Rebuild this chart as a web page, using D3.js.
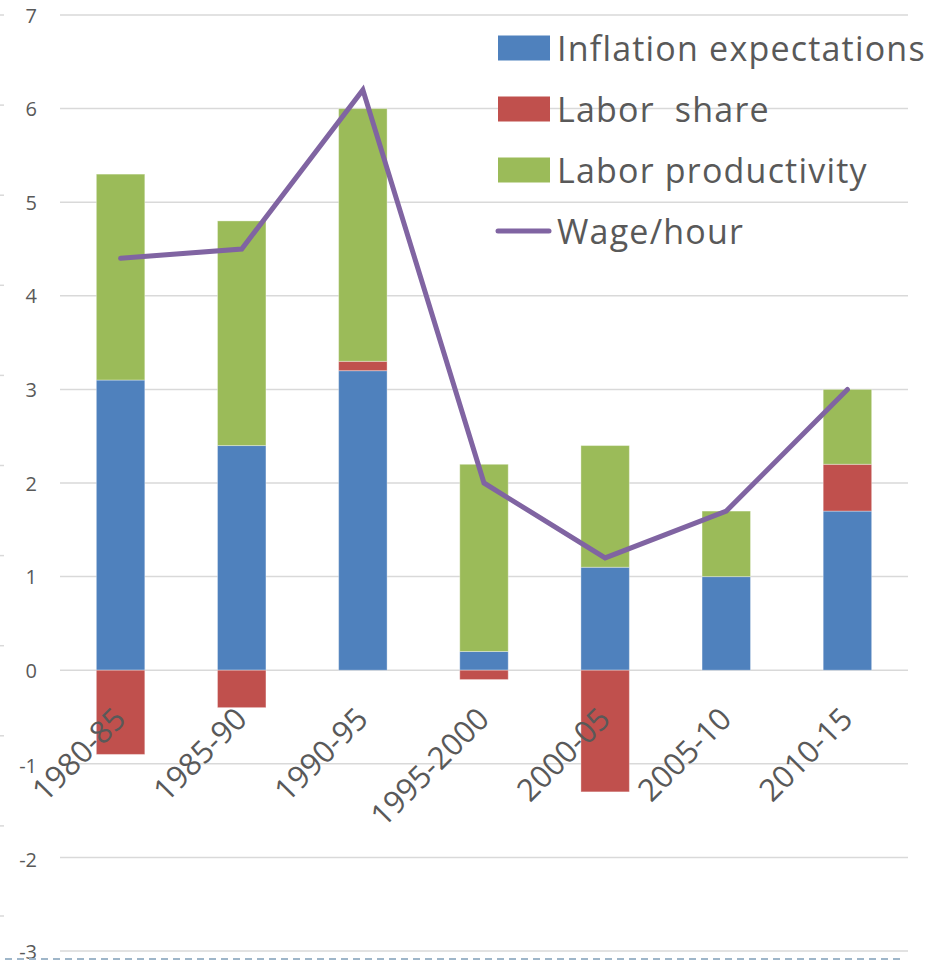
<!DOCTYPE html>
<html>
<head>
<meta charset="utf-8">
<script src="https://cdn.jsdelivr.net/npm/d3@7"></script>
<style>
  body { margin: 0; background: #fff; }
  svg { display: block; font-family: "Open Sans", "Liberation Sans", sans-serif; }
</style>
</head>
<body>
<svg width="947" height="963"></svg>
<script>
// periods on the x axis
var periods = ["1980-85", "1985-90", "1990-95", "1995-2000", "2000-05", "2005-10", "2010-15"];

// the three stacked components (percent)
var inflation = [3.1, 2.4, 3.2, 0.2, 1.1, 1.0, 1.7];
var laborShare = [-0.9, -0.4, 0.1, -0.1, -1.3, 0.0, 0.5];
var productivity = [2.2, 2.4, 2.7, 2.0, 1.3, 0.7, 0.8];

// wage per hour, drawn as a line
var wage = [4.4, 4.5, 6.2, 2.0, 1.2, 1.7, 3.0];

var yTicks = [-3, -2, -1, 0, 1, 2, 3, 4, 5, 6, 7];

var seriesNames = ["Inflation expectations", "Labor  share", "Labor productivity"];
var seriesColors = ["#4f81bd", "#c0504d", "#9bbb59"];
var lineName = "Wage/hour";
var lineColor = "#8064a2";

var svg = d3.select("svg");

var x = d3.scaleBand()
  .domain(periods)
  .range([60, 908])
  .paddingInner(0.6)
  .paddingOuter(0.3);

var y = d3.scaleLinear()
  .domain([-3, 7])
  .range([951, 15]);

// rows for the stack
var rows = periods.map(function(p, i) {
  return { period: p, a: inflation[i], b: laborShare[i], c: productivity[i] };
});
var stacked = d3.stack()
  .keys(["a", "b", "c"])
  .offset(d3.stackOffsetDiverging)(rows);

// little marks on the far left edge (leftover axis from the source)
var edge = d3.scaleLinear().domain([0, 10]).range([15, 916]);
svg.append("g")
  .selectAll("line")
  .data(d3.range(0, 11))
  .enter()
  .append("line")
    .attr("x1", 0).attr("x2", 4)
    .attr("y1", function(d) { return edge(d); })
    .attr("y2", function(d) { return edge(d); })
    .attr("stroke", "#d9d9d9")
    .attr("stroke-width", 1.5);

// gridlines
svg.append("g")
  .selectAll("line")
  .data(yTicks)
  .enter()
  .append("line")
    .attr("x1", 60).attr("x2", 908)
    .attr("y1", function(d) { return y(d); })
    .attr("y2", function(d) { return y(d); })
    .attr("stroke", "#d9d9d9")
    .attr("stroke-width", 1.5);

// y labels
svg.append("g")
  .selectAll("text")
  .data(yTicks)
  .enter()
  .append("text")
    .attr("x", 37)
    .attr("y", function(d) { return y(d) + (d < 0 ? 2 : 0) - (d === -3 ? 2 : 0); })
    .attr("text-anchor", "end")
    .attr("dominant-baseline", "central")
    .attr("fill", "#595959")
    .style("font-size", "20px")
    .text(function(d) { return d; });

// bars
svg.append("g")
  .selectAll("g")
  .data(stacked)
  .enter()
  .append("g")
    .attr("fill", function(d, i) { return seriesColors[i]; })
  .selectAll("rect")
  .data(function(d) { return d; })
  .enter()
  .append("rect")
    .attr("x", function(d) { return x(d.data.period); })
    .attr("width", x.bandwidth())
    .attr("y", function(d) { return y(Math.max(d[0], d[1])); })
    .attr("height", function(d) { return Math.abs(y(d[0]) - y(d[1])); })
    .attr("stroke", "rgba(255,255,255,0.35)")
    .attr("stroke-width", 1);

// wage line
var line = d3.line()
  .x(function(d, i) { return x(periods[i]) + x.bandwidth() / 2; })
  .y(function(d) { return y(d); });

svg.append("path")
  .datum(wage)
  .attr("d", line)
  .attr("fill", "none")
  .attr("stroke", lineColor)
  .attr("stroke-width", 5)
  .attr("stroke-linecap", "round")
  .attr("stroke-linejoin", "miter");

// x labels, rotated
svg.append("g")
  .selectAll("text")
  .data(periods)
  .enter()
  .append("text")
    .attr("transform", function(d) {
      return "translate(" + (x(d) + x.bandwidth() / 2 + 7) + ",721) rotate(-45)";
    })
    .attr("text-anchor", "end")
    .attr("fill", "#595959")
    .style("font-size", "31px")
    .text(function(d) { return d; });

// legend
var legend = svg.append("g")
  .style("font-size", "34px")
  .style("letter-spacing", "1.2px");
var legendRows = [48, 109, 170];
seriesNames.forEach(function(name, i) {
  legend.append("rect")
    .attr("x", 498).attr("y", legendRows[i] - 12.5)
    .attr("width", 52).attr("height", 25)
    .attr("fill", seriesColors[i]);
  legend.append("text")
    .attr("xml:space", "preserve")
    .style("white-space", "pre")
    .attr("x", 557).attr("y", legendRows[i])
    .attr("dominant-baseline", "central")
    .attr("fill", "#595959")
    .text(name);
});
legend.append("line")
  .attr("x1", 498).attr("x2", 549)
  .attr("y1", 231).attr("y2", 231)
  .attr("stroke", lineColor)
  .attr("stroke-width", 5)
  .attr("stroke-linecap", "round");
legend.append("text")
  .attr("x", 557).attr("y", 231)
  .attr("dominant-baseline", "central")
  .attr("fill", "#595959")
  .text(lineName);

// dashed line along the bottom edge
svg.append("line")
  .attr("x1", 5).attr("x2", 903)
  .attr("y1", 959).attr("y2", 959)
  .attr("stroke", "#9fb6c9")
  .attr("stroke-width", 2)
  .attr("stroke-dasharray", "7,5");
</script>
</body>
</html>
